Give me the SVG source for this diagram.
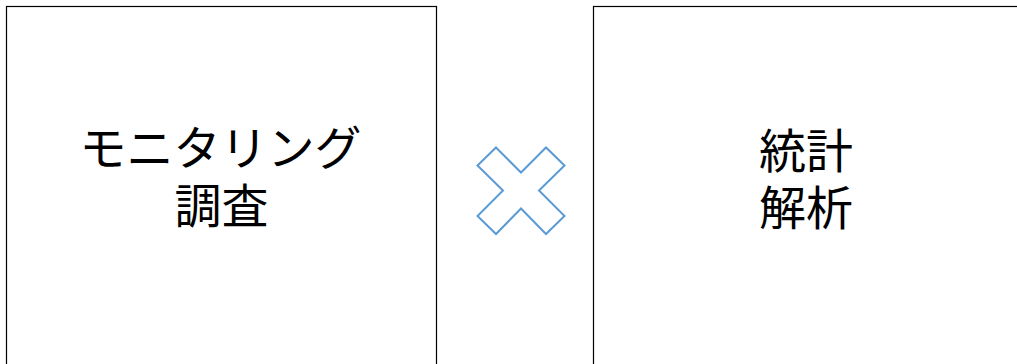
<svg xmlns="http://www.w3.org/2000/svg" width="1017" height="364" viewBox="0 0 1017 364">
<style>
.box{fill:#fff;stroke:#000;stroke-width:1.2}
.t{font-family:"Noto Sans CJK JP","Noto Sans",sans-serif;font-size:47px;fill:#000;text-anchor:middle}
.x{fill:#fff;stroke:#5B9BD5;stroke-width:2;stroke-linejoin:miter}
</style>
<rect width="1017" height="364" fill="#fff"/>
<g id="node-monitoring">
<rect class="box" x="6.5" y="6.5" width="430" height="400"/>
<text class="t"><tspan x="220.5" y="165">モニタリング</tspan><tspan x="221.5" y="223">調査</tspan></text>
</g>
<g id="node-cross">
<polygon class="x" points="496,147.5 521,172.5 546,147.5 564.5,165.5 539,190.5 564.5,216 546,234 521,208.5 496,234 477.5,216 503,190.5 477.5,165.5"/>
</g>
<g id="node-statistics">
<rect class="box" x="593.5" y="6.5" width="440" height="400"/>
<text class="t"><tspan x="806" y="168">統計</tspan><tspan x="806" y="225">解析</tspan></text>
</g>
<g id="connectors"></g>
</svg>
